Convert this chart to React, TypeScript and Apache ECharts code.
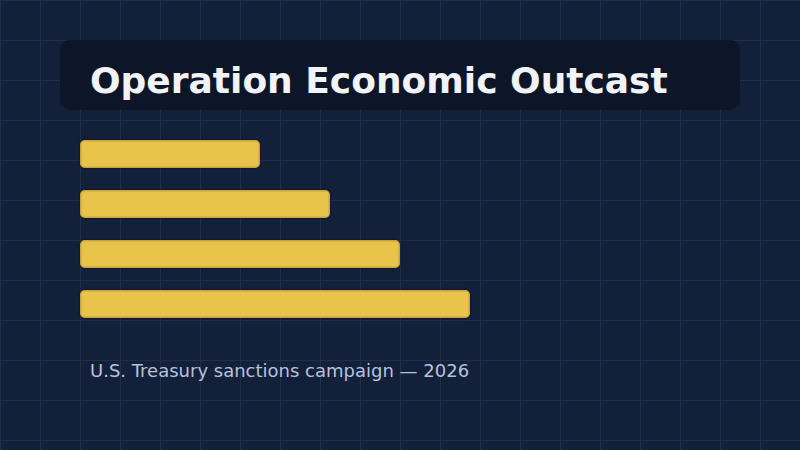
import React, { useEffect, useRef } from 'react';
import * as echarts from 'echarts';

const categories = ['Stage 1', 'Stage 2', 'Stage 3', 'Stage 4'];
const values = [180, 250, 320, 390];
const titleText = 'Operation Economic Outcast';
const subtitleText = 'U.S. Treasury sanctions campaign — 2026';

const App = () => {
    const chartRef = useRef<HTMLDivElement>(null);

    useEffect(() => {
        const chartDom = chartRef.current;
        if (!chartDom) return;

        const myChart = echarts.init(chartDom, null, { renderer: 'svg' });

        const option: echarts.EChartsOption = {
            animation: false,
            backgroundColor: '#13203a',
            grid: [
                // background grid, one unit per pixel
                { left: 0, top: 0, width: 800, height: 450 },
                // bars
                { left: 80, top: 129, width: 640, height: 200 },
            ],
            xAxis: [
                {
                    gridIndex: 0, type: 'value', min: 0, max: 800, interval: 40,
                    axisLine: { show: false }, axisTick: { show: false }, axisLabel: { show: false },
                    splitLine: { show: true, lineStyle: { color: '#1f2e4c', width: 1 } },
                },
                {
                    gridIndex: 1, type: 'value', min: 0, max: 640,
                    show: false,
                },
            ],
            yAxis: [
                {
                    gridIndex: 0, type: 'value', min: 0, max: 450, interval: 40, inverse: true,
                    axisLine: { show: false }, axisTick: { show: false }, axisLabel: { show: false },
                    splitLine: { show: true, lineStyle: { color: '#1f2e4c', width: 1 } },
                },
                {
                    gridIndex: 1, type: 'category', data: categories, inverse: true,
                    show: false,
                },
            ],
            series: [
                {
                    type: 'bar',
                    xAxisIndex: 1,
                    yAxisIndex: 1,
                    data: values,
                    barWidth: 28,
                    itemStyle: {
                        color: '#e8c44c',
                        borderColor: '#c9a43c',
                        borderWidth: 1.5,
                        borderRadius: 4,
                        shadowColor: 'rgba(0,0,0,0.5)',
                        shadowBlur: 3,
                    },
                },
            ],
            graphic: [
                {
                    type: 'rect',
                    z: 100,
                    shape: { x: 60, y: 40, width: 680, height: 70, r: 10 },
                    style: { fill: '#0d1628' },
                },
                {
                    type: 'text',
                    z: 101,
                    x: 90,
                    y: 80,
                    style: {
                        text: titleText,
                        fill: '#f1f3f6',
                        stroke: 'none',
                        lineWidth: 0,
                        font: 'bold 36px "DejaVu Sans"',
                        textVerticalAlign: 'middle',
                    },
                },
                {
                    type: 'text',
                    z: 101,
                    x: 90,
                    y: 370,
                    style: {
                        text: subtitleText,
                        fill: '#b6c3db',
                        stroke: 'none',
                        lineWidth: 0,
                        font: '18px "DejaVu Sans"',
                        textVerticalAlign: 'middle',
                    },
                },
            ],
        };

        myChart.setOption(option);

        return () => {
            myChart.dispose();
        };
    }, []);

    return (
        <div
            ref={chartRef}
            style={{ position: 'fixed', left: 0, top: 0, width: '800px', height: '450px' }}
        ></div>
    );
};

export default App;
